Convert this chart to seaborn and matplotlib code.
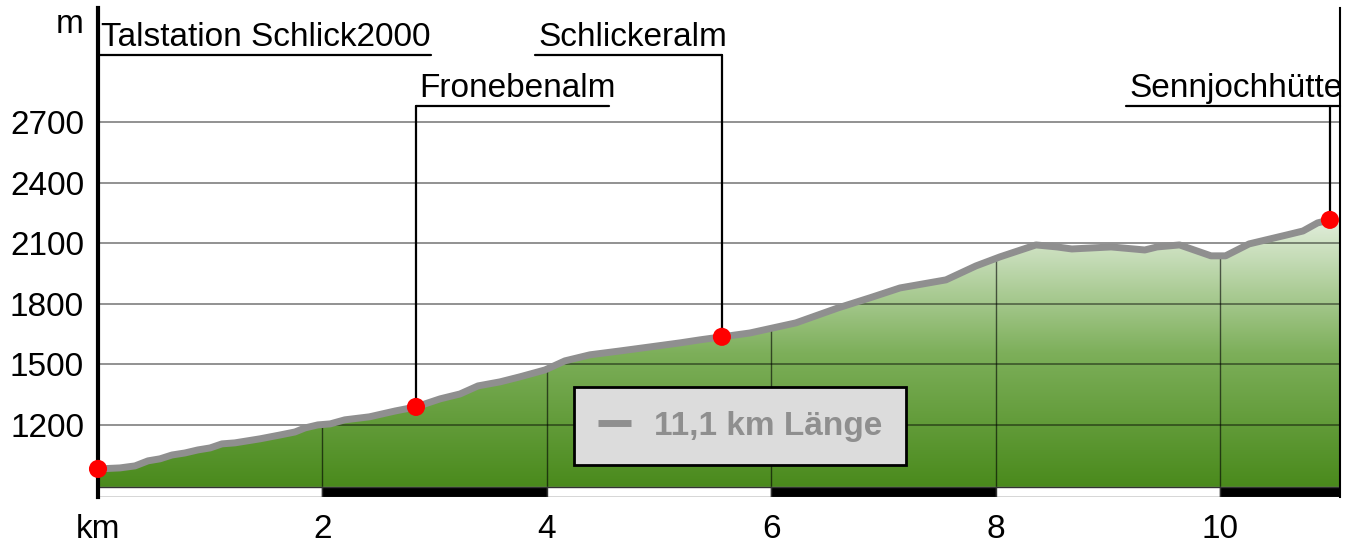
import numpy as np
import matplotlib
matplotlib.use("Agg")
import matplotlib.pyplot as plt
import matplotlib.transforms as mtransforms
from matplotlib.colors import LinearSegmentedColormap
from matplotlib.lines import Line2D
from matplotlib.patches import Polygon
import seaborn as sns

# elevation profile: distance (km) and height (m)
km = [0.0, 0.196, 0.33, 0.446, 0.553, 0.66, 0.775, 0.89, 1.0, 1.105, 1.22,
      1.444, 1.622, 1.756, 1.845, 1.96, 2.07, 2.2, 2.42, 2.65, 2.834, 3.05,
      3.226, 3.387, 3.583, 3.761, 3.984, 4.162, 4.385, 4.652, 4.92, 5.187,
      5.365, 5.561, 5.81, 6.22, 6.595, 6.88, 7.148, 7.558, 7.825, 8.04, 8.36,
      8.547, 8.68, 9.03, 9.33, 9.44, 9.64, 9.92, 10.05, 10.26, 10.6, 10.74,
      10.87, 10.98]
elev = [982, 987, 997, 1022, 1032, 1051, 1061, 1076, 1086, 1106, 1111,
        1131, 1150, 1165, 1185, 1200, 1205, 1225, 1240, 1269, 1289, 1329,
        1353, 1393, 1413, 1438, 1472, 1517, 1547, 1566, 1586, 1606,
        1621, 1636, 1655, 1705, 1779, 1829, 1878, 1918, 1987, 2032, 2091,
        2081, 2071, 2081, 2066, 2081, 2091, 2037, 2037, 2096, 2141, 2160,
        2200, 2215]

stations = ["Talstation Schlick2000", "Fronebenalm", "Schlickeralm", "Sennjochhütte"]
station_km = [0.0, 2.834, 5.561, 10.98]
station_elev = [982, 1289, 1636, 2215]

y_ticks = [1200, 1500, 1800, 2100, 2400, 2700]
x_ticks = [0, 2, 4, 6, 8, 10]
x_labels = ["km", "2", "4", "6", "8", "10"]
legend_label = "11,1 km Länge"

sns.set_style("white")
plt.rcParams["font.family"] = ["Liberation Sans", "DejaVu Sans"]
plt.rcParams["text.color"] = "black"
plt.rcParams["xtick.color"] = "black"
plt.rcParams["ytick.color"] = "black"
FS = 24

XMAX = 11.07
YMIN, YMAX = 843, 3264
BASE = 893

fig = plt.figure(figsize=(13.46, 5.43), dpi=100)
ax = fig.add_axes([98 / 1346, 1 - 497 / 543, (1340 - 98) / 1346, (497 - 8) / 543])

# gradient fill under the profile, running on to the right border
verts = [(0, BASE)] + list(zip(km, elev)) + [(XMAX, elev[-1]), (XMAX, BASE)]
area = Polygon(verts, closed=True, facecolor="none", edgecolor="none")
ax.add_patch(area)
cmap = LinearSegmentedColormap.from_list("alp", ["#4a8a1c", "#7daf5a", "#e2eedc"])
grad = np.linspace(0, 1, 256).reshape(-1, 1)
im = ax.imshow(grad, cmap=cmap, origin="lower", aspect="auto",
               extent=[0, XMAX, BASE, max(elev)], zorder=1)
im.set_clip_path(area)

# grid: vertical lines only inside the fill
vl = ax.vlines(x_ticks[1:], BASE, YMAX, color="black", alpha=0.6, lw=1, zorder=2)
vl.set_clip_path(area)
ax.hlines(y_ticks, 0, XMAX, color="black", alpha=0.5, lw=1.2, zorder=2)

# distance scale bar
widths = [min(2, XMAX - x) for x in x_ticks]
ax.bar(x_ticks, BASE - YMIN, bottom=YMIN, width=widths, align="edge",
       color=["white", "black"] * 3, edgecolor="#333333", lw=1, zorder=2)

sns.lineplot(x=km, y=elev, color="#8f8f8f", lw=5, ax=ax, zorder=4,
             solid_capstyle="round", solid_joinstyle="round")
sns.scatterplot(x=station_km, y=station_elev, color="red", s=170,
                edgecolor="none", ax=ax, zorder=6, clip_on=False)

# callouts: underline start, end, height
callouts = [(0.0, 2.968, 3032), (2.834, 4.554, 2779),
            (3.895, 5.561, 3032), (9.162, XMAX, 2779)]
for name, sx, sy, (x0, x1, lvl) in zip(stations, station_km, station_elev, callouts):
    ax.plot([x0, x1], [lvl, lvl], color="black", lw=1.6, zorder=5, clip_on=False)
    ax.plot([sx, sx], [lvl, sy], color="black", lw=1.6, zorder=5, clip_on=False)
    ax.text(x0 + 0.03, lvl + 45, name, fontsize=FS, ha="left", va="baseline")

ax.set_xlim(0, XMAX)
ax.set_ylim(YMIN, YMAX)
ax.set_xticks(x_ticks, x_labels)
ax.set_yticks(y_ticks, [str(v) for v in y_ticks])
ax.tick_params(length=0, labelsize=FS)
ax.tick_params(axis="y", pad=10)
ax.tick_params(axis="x", pad=12.5)
ax.set_xlabel("")
ax.set_ylabel("")
trans = mtransforms.blended_transform_factory(ax.transAxes, ax.transData)
ax.text(-0.012, 3140, "m", fontsize=FS, ha="right", va="baseline", transform=trans)

for s in ["top", "bottom"]:
    ax.spines[s].set_visible(False)
ax.spines["left"].set_linewidth(3)
ax.spines["left"].set_color("black")
ax.spines["right"].set_linewidth(1.5)
ax.spines["right"].set_color("black")
ax.grid(False)

handle = Line2D([], [], color="#8f8f8f", lw=5, solid_capstyle="butt")
leg = ax.legend([handle], [legend_label], loc="center",
                bbox_to_anchor=(740 / 1346, 1 - 426 / 543),
                bbox_transform=fig.transFigure, fancybox=False, framealpha=1,
                facecolor="#dcdcdc", edgecolor="black", borderpad=0.7,
                handlelength=1.0, handletextpad=0.7,
                prop={"size": FS, "weight": "bold"}, labelcolor="#8f8f8f")
leg.get_frame().set_linewidth(2)
leg.set_zorder(10)

fig.savefig("out.png", dpi=100)
